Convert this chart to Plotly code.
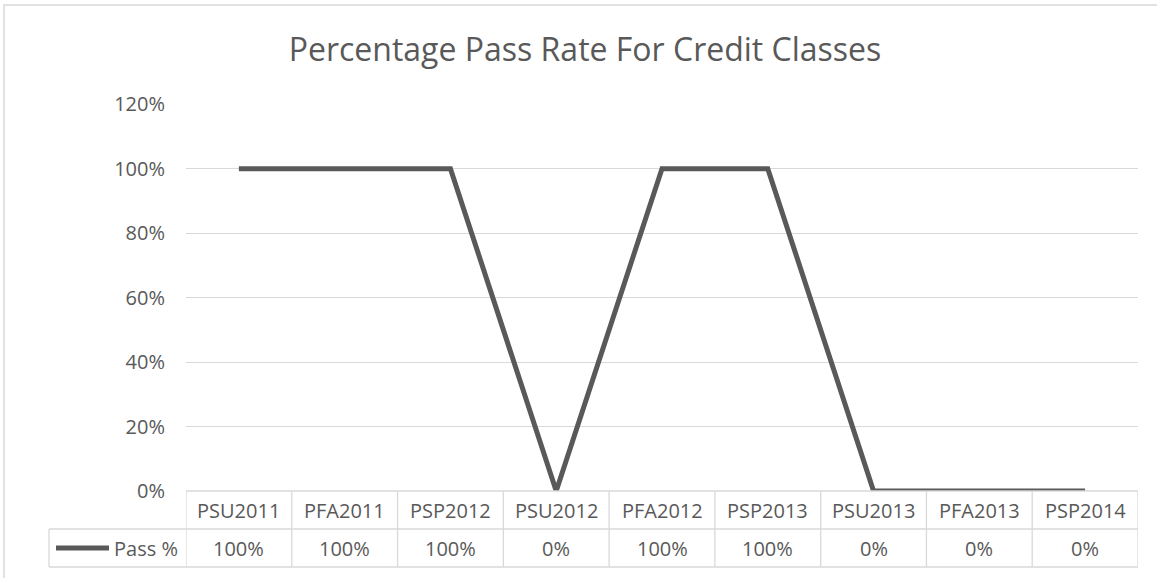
import plotly.graph_objects as go

categories = ["PSU2011", "PFA2011", "PSP2012", "PSU2012", "PFA2012",
              "PSP2013", "PSU2013", "PFA2013", "PSP2014"]
pass_rate = [1.0, 1.0, 1.0, 0.0, 1.0, 1.0, 0.0, 0.0, 0.0]
series_name = "Pass %"
title_text = "Percentage Pass Rate For Credit Classes"

W, H = 1157, 578
L, R, T, B = 186, 1138, 104, 491
TXT = "#595959"
GRID = "#D9D9D9"
FONT = "Open Sans"

def px_x(p):
    return (p - L) / (R - L)

def px_y(p):
    return (B - p) / (B - T)

fig = go.Figure()
fig.add_trace(go.Scatter(
    x=list(range(len(categories))), y=pass_rate, mode="lines", name=series_name,
    line=dict(color="#595959", width=5), showlegend=False,
    hovertemplate="%{customdata}: %{y:.0%}<extra></extra>", customdata=categories,
))

shapes = []
annotations = []
n = len(categories)
y_head = px_y(529)
y_bot = px_y(567)
line_style = dict(color=GRID, width=1.3)

# table horizontal lines
shapes.append(dict(type="line", xref="x", yref="paper", x0=-0.5, x1=n - 0.5, y0=0, y1=0, line=line_style))
shapes.append(dict(type="line", xref="paper", yref="paper", x0=px_x(49), x1=1, y0=y_head, y1=y_head, line=line_style))
shapes.append(dict(type="line", xref="paper", yref="paper", x0=px_x(49), x1=1, y0=y_bot, y1=y_bot, line=line_style))
# vertical lines
for i in range(n + 1):
    shapes.append(dict(type="line", xref="x", yref="paper", x0=i - 0.5, x1=i - 0.5, y0=0, y1=y_bot, line=line_style))
shapes.append(dict(type="line", xref="paper", yref="paper", x0=px_x(49), x1=px_x(49), y0=y_head, y1=y_bot, line=line_style))

# legend key
shapes.append(dict(type="line", xref="paper", yref="paper", x0=px_x(56), x1=px_x(109),
                   y0=px_y(548), y1=px_y(548), line=dict(color="#595959", width=5)))
annotations.append(dict(text=series_name, xref="paper", yref="paper", x=px_x(180), y=px_y(548),
                        xanchor="right", yanchor="middle", showarrow=False,
                        font=dict(family=FONT, size=20, color=TXT)))

for i, (c, v) in enumerate(zip(categories, pass_rate)):
    annotations.append(dict(text=c, xref="x", yref="paper", x=i, y=px_y(510),
                            xanchor="center", yanchor="middle", showarrow=False,
                            font=dict(family=FONT, size=20, color=TXT)))
    annotations.append(dict(text=f"{v:.0%}", xref="x", yref="paper", x=i, y=px_y(548),
                            xanchor="center", yanchor="middle", showarrow=False,
                            font=dict(family=FONT, size=20, color=TXT)))

# outer chart border
shapes.append(dict(type="rect", xref="paper", yref="paper", x0=px_x(4), x1=px_x(1170),
                   y0=px_y(5), y1=px_y(600), line=dict(color=GRID, width=1.5), layer="below"))

fig.update_layout(
    width=W, height=H,
    margin=dict(l=L, r=W - R, t=T, b=H - B, pad=0),
    paper_bgcolor="white", plot_bgcolor="white",
    title=dict(text=title_text, xref="container", yref="container", x=585 / W, y=1 - 50 / H,
               xanchor="center", yanchor="middle",
               font=dict(family=FONT, size=32, color=TXT)),
    xaxis=dict(range=[-0.5, n - 0.5], showticklabels=False, showgrid=False, zeroline=False,
               showline=False, fixedrange=True),
    yaxis=dict(range=[0, 1.2005], tickvals=[0, 0.2, 0.4, 0.6, 0.8, 1.0, 1.2], tickformat=".0%",
               showgrid=True, gridcolor=GRID,
               gridwidth=1.3, zeroline=False, showline=False, ticks="", ticklabelstandoff=20,
               tickfont=dict(family=FONT, size=20, color=TXT), fixedrange=True),
    shapes=shapes, annotations=annotations,
    font=dict(family=FONT, color=TXT),
)

fig.write_html("out.html", config={"displayModeBar": False},
               post_script="document.body.style.margin='0';document.body.style.padding='0';")
